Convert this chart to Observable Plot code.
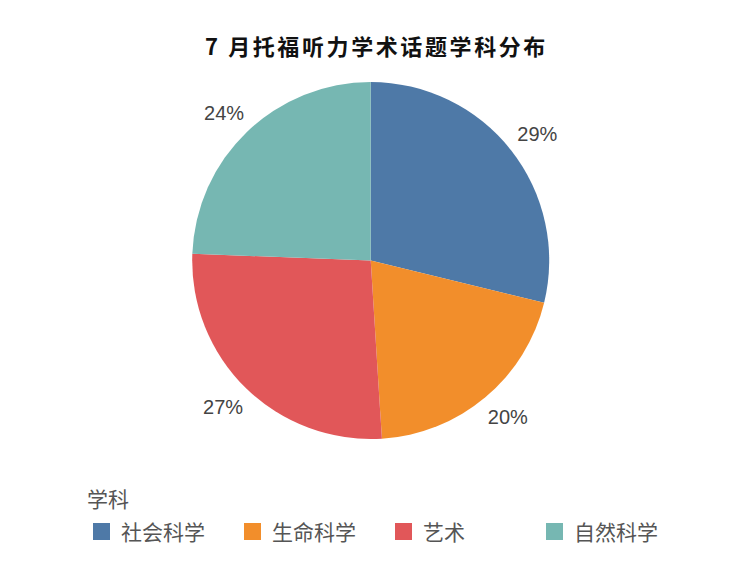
<!DOCTYPE html>
<html><head><meta charset="utf-8">
<script src="https://cdn.jsdelivr.net/npm/d3@7"></script>
<script src="https://cdn.jsdelivr.net/npm/@observablehq/plot@0.6"></script>
<style>
body{margin:0;background:#fff;font-family:"Noto Sans CJK SC","Noto Sans",sans-serif;}
#title{position:absolute;left:0;top:28px;width:753px;text-align:center;font-size:22px;font-weight:bold;letter-spacing:2.6px;color:#111;line-height:34px;}
#chart{position:absolute;left:0;top:70px;}
#legend{position:absolute;left:87px;top:483px;color:#555;}
#legend .lt{font-size:21px;line-height:30px;}
#legend .items{display:flex;margin-top:3px;margin-left:6px;}
#legend .it{width:151px;display:flex;align-items:center;font-size:21px;line-height:30px;}
#legend .sw{width:17px;height:17px;margin-right:11px;}
</style></head>
<body>
<div id="title">7 月托福听力学术话题学科分布</div>
<div id="chart"></div>
<div id="legend"></div>
<script>
const categories = ["社会科学","生命科学","艺术","自然科学"];
const values = [28.8, 20.2, 26.6, 24.4];
const labels = ["29%","20%","27%","24%"];
const colors = ["#4e79a7","#f28e2b","#e15759","#76b7b2"];
const legendTitle = "学科";

const pie = d3.pie().sort(null).value(d => d.value)(categories.map((c,i)=>({category:c,value:values[i],label:labels[i]})));
const labelData = pie.map(p => {
  const m = (p.startAngle + p.endAngle)/2;
  const s = Math.sin(m);
  return {label:p.data.label, x:1.148*s + 0.028*Math.sign(s), y:1.148*Math.cos(m)};
});

function pieMark(index, scales, values, dimensions) {
  const cx = scales.x(0), cy = scales.y(0);
  const r = Math.abs(scales.x(1) - scales.x(0));
  const arc = d3.arc().innerRadius(0).outerRadius(r);
  const color = d3.scaleOrdinal(categories, colors);
  const g = d3.create("svg:g").attr("transform", `translate(${cx},${cy})`);
  g.selectAll("path").data(pie).join("path")
    .attr("d", arc).attr("fill", d => color(d.data.category));
  return g.node();
}

const plot = Plot.plot({
  width: 753, height: 400,
  x: {domain:[-1,1], range:[192.2,549.2], axis:null},
  y: {domain:[1,-1], range:[12,369], axis:null},
  marks: [
    pieMark,
    Plot.text(labelData, {x:"x", y:"y", text:"label", fontSize:20, fill:"#444", fontFamily:"Liberation Sans, Arial, sans-serif"})
  ]
});
document.getElementById("chart").appendChild(plot);

const lg = d3.select("#legend");
lg.append("div").attr("class","lt").text(legendTitle);
const items = lg.append("div").attr("class","items");
categories.forEach((c,i)=>{
  const it = items.append("div").attr("class","it");
  it.append("div").attr("class","sw").style("background",colors[i]);
  it.append("span").text(c);
});
</script>
</body></html>
